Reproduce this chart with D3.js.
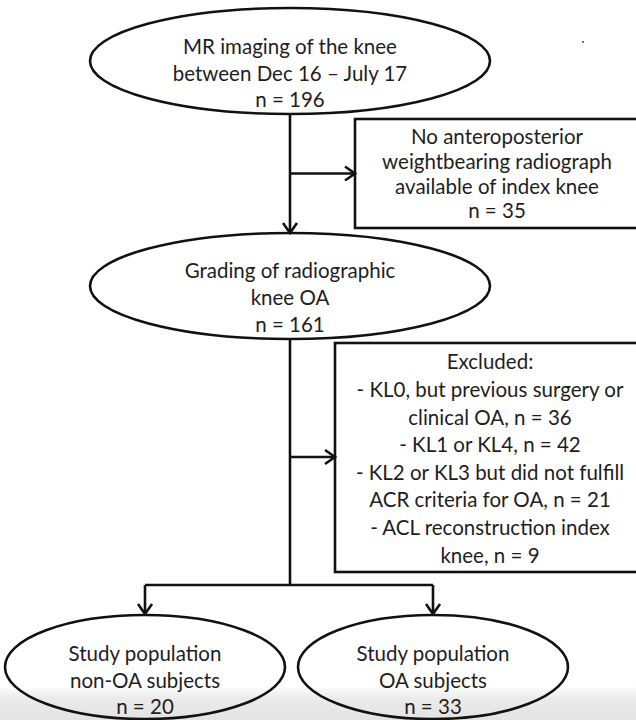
<!DOCTYPE html>
<html>
<head>
<meta charset="utf-8">
<script src="https://cdn.jsdelivr.net/npm/d3@7"></script>
<style>
  body { margin: 0; background: #fff; }
  svg { display: block; }
  text { font-family: Lato, "Open Sans", sans-serif; fill: #1e1e1e; }
</style>
</head>
<body>
<svg id="flow" width="636" height="720"></svg>
<script>
// ---- data (texts and counts) ----
const screenLines = ["MR imaging of the knee", "between Dec 16 \u2013 July 17"];
const screenN = 196;
const noXrayLines = ["No anteroposterior", "weightbearing radiograph", "available of index knee"];
const noXrayN = 35;
const gradeLines = ["Grading of radiographic", "knee OA"];
const gradeN = 161;
const exclusionReasons = [
	["- KL0, but previous surgery or", "clinical OA"],
	["- KL1 or KL4"],
	["- KL2 or KL3 but did not fulfill", "ACR criteria for OA"],
	["- ACL reconstruction index", "knee"]
];
const exclusionCounts = [36, 42, 21, 9];
const groupLabels = ["non-OA subjects", "OA subjects"];
const groupCounts = [20, 33];

// ---- layout ----
const FONT = 20.5;
const svg = d3.select("#flow");

// grey band at the bottom of the screenshot
const defs = svg.append("defs");
const grad = defs.append("linearGradient").attr("id", "band").attr("x1", 0).attr("x2", 0).attr("y1", 0).attr("y2", 1);
grad.append("stop").attr("offset", 0).attr("stop-color", "#ffffff");
grad.append("stop").attr("offset", 0.35).attr("stop-color", "#ebebeb");
grad.append("stop").attr("offset", 1).attr("stop-color", "#e3e3e3");
svg.append("rect").attr("x", 0).attr("y", 686).attr("width", 636).attr("height", 34).attr("fill", "url(#band)");

const shapes = svg.append("g").attr("fill", "none").attr("stroke", "#111").attr("stroke-width", 2.6);
const labels = svg.append("g").attr("text-anchor", "middle").style("font-size", FONT + "px");

/** ellipse node with centred lines */
function ellipseNode(cx, cy, rx, ry, lines, firstY, step) {
	shapes.append("ellipse").attr("cx", cx).attr("cy", cy).attr("rx", rx).attr("ry", ry);
	writeLines(cx, firstY, step, lines);
}

/** rectangle node with centred lines */
function boxNode(x, y, w, h, textX, lines, firstY, step) {
	shapes.append("rect").attr("x", x).attr("y", y).attr("width", w).attr("height", h);
	writeLines(textX, firstY, step, lines);
}

function writeLines(x, firstY, step, lines) {
	labels.append("g").selectAll("text")
		.data(lines)
		.join("text")
		.attr("x", x)
		.attr("y", (d, i) => firstY + i * step)
		.attr("dy", "0.36em")
		.text(d => d);
}

/** straight line with open chevron head at (x2, y2) */
function arrow(x1, y1, x2, y2) {
	shapes.append("line").attr("x1", x1).attr("y1", y1).attr("x2", x2).attr("y2", y2);
	const a = Math.atan2(y2 - y1, x2 - x1), L = 10, W = 7;
	const bx = x2 - L * Math.cos(a), by = y2 - L * Math.sin(a);
	const px = -Math.sin(a) * W, py = Math.cos(a) * W;
	shapes.append("path")
		.attr("stroke-linejoin", "miter")
		.attr("d", d3.line()([[bx + px, by + py], [x2, y2], [bx - px, by - py]]));
}

const nLabel = n => `n = ${n}`;
const mainX = 290;

// top: screened
ellipseNode(mainX, 61, 200, 53, screenLines.concat(nLabel(screenN)), 47, 26.5);
// exclusion 1
boxNode(355, 119, 300, 109, 497, noXrayLines.concat(nLabel(noXrayN)), 137, 24.6);
// middle: grading
ellipseNode(mainX, 286, 200, 53, gradeLines.concat(nLabel(gradeN)), 271, 27);
// exclusion 2
const excludedLines = ["Excluded:"];
exclusionReasons.forEach((r, i) => {
	r.forEach((line, j) => excludedLines.push(j === r.length - 1 ? `${line}, n = ${exclusionCounts[i]}` : line));
});
boxNode(335, 343, 320, 229, 490, excludedLines, 362, 27.6);

// connectors
arrow(mainX, 114, mainX, 233);
arrow(mainX, 173.5, 355, 173.5);
shapes.append("line").attr("x1", mainX).attr("y1", 339).attr("x2", mainX).attr("y2", 585);
arrow(mainX, 457, 335, 457);

// bottom: groups
const groupCx = [145, 433];
const groupRx = [140, 135];
shapes.append("polyline").attr("points", [[groupCx[0], 585], [groupCx[1], 585]].join(" "));
groupLabels.forEach((g, i) => {
	arrow(groupCx[i], 585, groupCx[i], 614);
	ellipseNode(groupCx[i], 667, groupRx[i], 52, ["Study population", g, nLabel(groupCounts[i])], 654, 26.5);
});

// small speck at top right of the scan
svg.append("circle").attr("cx", 583).attr("cy", 42).attr("r", 1).attr("fill", "#444");
</script>
</body>
</html>
